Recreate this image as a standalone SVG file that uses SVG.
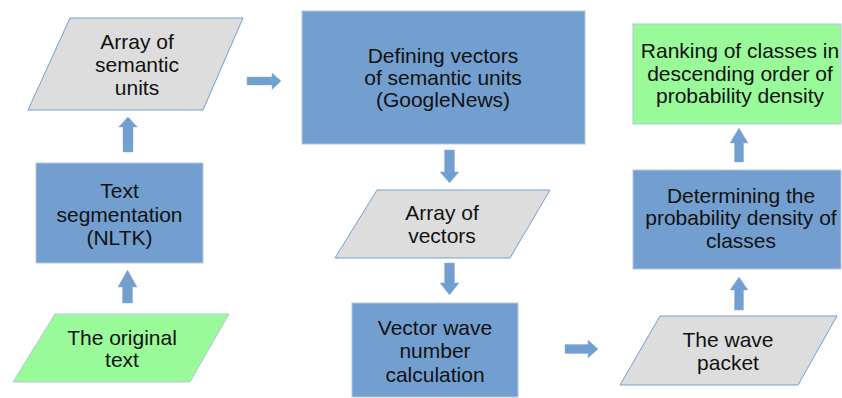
<svg xmlns="http://www.w3.org/2000/svg" width="842" height="398" viewBox="0 0 842 398">
<style>
.blue{fill:#729fcf;stroke:#b4c7dc;stroke-width:1}
.gray{fill:#dddddd;stroke:#729fcf;stroke-width:1}
.green{fill:#99fa99;stroke:#b4c7dc;stroke-width:1}
.arr{fill:#729fcf;stroke:#8fb3dc;stroke-width:0.5}
text{font-family:"Liberation Sans",Arial,sans-serif;font-size:21px;fill:#111;text-anchor:middle}
</style>
<rect width="842" height="398" fill="#ffffff"/>
<g id="connectors">
<polygon class="arr" points="123,152 123,127 118.5,127 128,117 137.5,127 133,127 133,152"/>
<polygon class="arr" points="122.5,303 122.5,287 118,287 127.5,270 137,287 132.5,287 132.5,303"/>
<polygon class="arr" points="247,77 272,77 272,73 281,81 272,89.5 272,85 247,85"/>
<polygon class="arr" points="444.5,150 454.5,150 454.5,172 459,172 449.5,183 440,172 444.5,172"/>
<polygon class="arr" points="444.5,263 454.5,263 454.5,283 459,283 449.5,295 440,283 444.5,283"/>
<polygon class="arr" points="565,344.5 588,344.5 588,340 598,349 588,358 588,353.5 565,353.5"/>
<polygon class="arr" points="734.5,162 734.5,143 730,143 739,128 748,143 743.5,143 743.5,162"/>
<polygon class="arr" points="734.5,310 734.5,290 730,290 739,277 748,290 743.5,290 743.5,310"/>
</g>
<g id="array-semantic">
<polygon class="gray" points="70,18 243,18 203,110 28,110"/>
<text x="137" y="49">Array of</text>
<text x="137" y="72">semantic</text>
<text x="137" y="95">units</text>
</g>
<g id="text-segmentation">
<rect class="blue" x="36" y="163" width="167" height="100"/>
<text x="119.5" y="198">Text</text>
<text x="119.5" y="222">segmentation</text>
<text x="119.5" y="245">(NLTK)</text>
</g>
<g id="original-text">
<polygon class="green" points="55,314 229,314 190,382 13,382"/>
<text x="122" y="345">The original</text>
<text x="122" y="367">text</text>
</g>
<g id="defining-vectors">
<rect class="blue" x="302" y="11" width="283" height="133"/>
<text x="443" y="63">Defining vectors</text>
<text x="443" y="85">of semantic units</text>
<text x="443" y="107">(GoogleNews)</text>
</g>
<g id="array-vectors">
<polygon class="gray" points="377,190 550,190 510,258 335,258"/>
<text x="442" y="220">Array of</text>
<text x="442" y="243">vectors</text>
</g>
<g id="wave-number">
<rect class="blue" x="352" y="303" width="166" height="94"/>
<text x="435" y="335">Vector wave</text>
<text x="435" y="358">number</text>
<text x="435" y="382">calculation</text>
</g>
<g id="wave-packet">
<polygon class="gray" points="660,316 837,316 798,385 620,385"/>
<text x="728" y="347">The wave</text>
<text x="728" y="370">packet</text>
</g>
<g id="probability-density">
<rect class="blue" x="633" y="170" width="208" height="99"/>
<text x="741" y="203">Determining the</text>
<text x="741" y="225">probability density of</text>
<text x="741" y="248">classes</text>
</g>
<g id="ranking">
<rect class="green" x="633" y="24" width="208" height="100"/>
<text x="740" y="58">Ranking of classes in</text>
<text x="740" y="81">descending order of</text>
<text x="740" y="103">probability density</text>
</g>
</svg>
